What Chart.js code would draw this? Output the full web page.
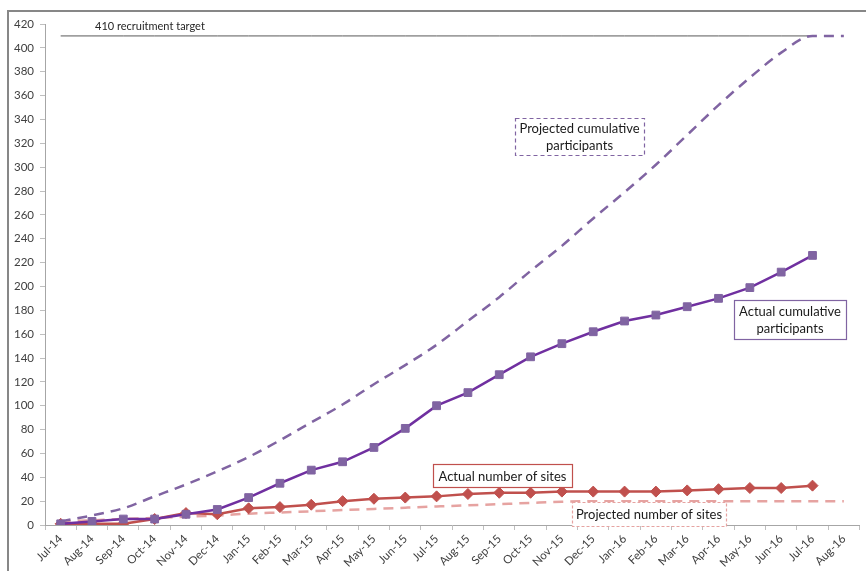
<!DOCTYPE html>
<html>
<head>
<meta charset="utf-8">
<script src="https://cdn.jsdelivr.net/npm/chart.js@4/dist/chart.umd.min.js"></script>
<style>
  html, body { margin: 0; padding: 0; background: #ffffff; }
  #wrap { width: 866px; height: 571px; position: relative; }
</style>
</head>
<body>
<div id="wrap"><canvas id="c" width="866" height="571"></canvas></div>
<script>
// ---- data ----
const months = ["Jul-14","Aug-14","Sep-14","Oct-14","Nov-14","Dec-14","Jan-15","Feb-15","Mar-15","Apr-15","May-15","Jun-15","Jul-15","Aug-15","Sep-15","Oct-15","Nov-15","Dec-15","Jan-16","Feb-16","Mar-16","Apr-16","May-16","Jun-16","Jul-16","Aug-16"];
const recruitmentTarget = [410,410,410,410,410,410,410,410,410,410,410,410,410,410,410,410,410,410,410,410,410,410,410,410,410,null];
const projectedCumulative = [3,8,14,24,34,45,57,71,86,101,118,134,151,171,191,213,234,257,279,302,327,352,375,396,410,410];
const actualCumulative = [1,3,5,5,9,13,23,35,46,53,65,81,100,111,126,141,152,162,171,176,183,190,199,212,226,null];
const actualSites = [1,1,1,5,10,9,14,15,17,20,22,23,24,26,27,27,28,28,28,28,29,30,31,31,33,null];
const projectedSites = [3,4,5,6,7,8,9.5,10.5,11.5,12.5,13.5,14.5,15.5,16.5,17.5,18.5,19.5,20,20,20,20,20,20,20,20,20];
const yTicksMax = 420;
const yTickStep = 20;

// ---- annotations (text labels) ----
const boxes = [
  { lines: ["Projected cumulative", "participants"], x: 515, y: 118, w: 129, h: 37, color: "#8064A2", dash: [4,3] },
  { lines: ["Actual cumulative", "participants"], x: 734, y: 300, w: 112, h: 39, color: "#8064A2", dash: [] },
  { lines: ["Actual number of sites"], x: 433, y: 464, w: 139, h: 23, color: "#C0504D", dash: [] },
  { lines: ["Projected number of sites"], x: 572, y: 502, w: 154, h: 24, color: "#E6A3A1", dash: [3,2] }
];

const decor = {
  id: "decor",
  beforeDraw(chart) {
    const ctx = chart.ctx;
    ctx.save();
    ctx.fillStyle = "#ffffff";
    ctx.fillRect(0, 0, chart.width, chart.height);
    ctx.strokeStyle = "#878787";
    ctx.lineWidth = 2;
    ctx.strokeRect(8, 11, 1200, 1200);
    ctx.restore();
  },
  afterDatasetsDraw(chart) {
    const ctx = chart.ctx;
    ctx.save();
    ctx.font = "11px Lato, 'Open Sans', sans-serif";
    ctx.fillStyle = "#262626";
    ctx.textAlign = "left";
    ctx.textBaseline = "middle";
    ctx.fillText("410 recruitment target", 95, 26);
    ctx.font = "13px Lato, 'Open Sans', sans-serif";
    for (const b of boxes) {
      ctx.fillStyle = "#ffffff";
      ctx.fillRect(b.x, b.y, b.w, b.h);
      ctx.strokeStyle = b.color;
      ctx.lineWidth = 1.2;
      ctx.setLineDash(b.dash);
      ctx.strokeRect(b.x + 0.5, b.y + 0.5, b.w, b.h);
      ctx.setLineDash([]);
      ctx.fillStyle = "#1a1a1a";
      ctx.textAlign = "center";
      const lh = 17;
      const startY = b.y + b.h / 2 - (b.lines.length - 1) * lh / 2;
      b.lines.forEach((t, i) => ctx.fillText(t, b.x + b.w / 2, startY + i * lh + 1));
    }
    ctx.restore();
  }
};

new Chart(document.getElementById("c"), {
  type: "line",
  data: {
    labels: months,
    datasets: [
      { label: "410 recruitment target", data: recruitmentTarget, borderColor: "#595959", borderWidth: 1, pointRadius: 0, order: 5 },
      { label: "Projected number of sites", data: projectedSites, borderColor: "#E6A3A1", borderWidth: 2.5, borderDash: [10, 7], pointRadius: 0, cubicInterpolationMode: "monotone", order: 4 },
      { label: "Projected cumulative participants", data: projectedCumulative, borderColor: "#8064A2", borderWidth: 2.5, borderDash: [10, 7], pointRadius: 0, cubicInterpolationMode: "monotone", order: 3 },
      { label: "Actual number of sites", data: actualSites, borderColor: "#C0504D", borderWidth: 2.5, pointStyle: "rectRot", pointRadius: 5.5, pointBackgroundColor: "#C0504D", pointBorderColor: "#C0504D", pointBorderWidth: 1, tension: 0, order: 2 },
      { label: "Actual cumulative participants", data: actualCumulative, borderColor: "#7030A0", borderWidth: 2.5, pointStyle: "rect", pointRadius: 5.5, pointBackgroundColor: "#8064A2", pointBorderColor: "#8064A2", pointBorderWidth: 1, tension: 0, order: 1 }
    ]
  },
  options: {
    responsive: false,
    animation: false,
    devicePixelRatio: 1,
    layout: { padding: { top: 24, right: 4, left: 0, bottom: 0 } },
    plugins: { legend: { display: false }, tooltip: { enabled: false } },
    scales: {
      x: {
        type: "category",
        offset: true,
        grid: { display: true, drawOnChartArea: false, drawTicks: true, tickLength: 5, offset: true, color: "#BFBFBF" },
        border: { color: "#A6A6A6", width: 1 },
        ticks: { autoSkip: false, maxRotation: 45, minRotation: 45, color: "#404040", font: { size: 11.5, family: "Lato, 'Open Sans', sans-serif" }, padding: 2 },
        afterFit(s) { s.height = 46; s.paddingLeft = 0; s.paddingRight = 0; }
      },
      y: {
        min: 0, max: yTicksMax,
        grid: { display: true, drawOnChartArea: false, drawTicks: true, tickLength: 5, color: "#BFBFBF" },
        border: { color: "#A6A6A6", width: 1 },
        ticks: { stepSize: yTickStep, color: "#404040", font: { size: 11.5, family: "Lato, 'Open Sans', sans-serif" }, padding: 6 },
        afterFit(s) { s.width = 45; s.paddingTop = 0; s.paddingBottom = 0; }
      }
    }
  },
  plugins: [decor]
});
</script>
</body>
</html>
